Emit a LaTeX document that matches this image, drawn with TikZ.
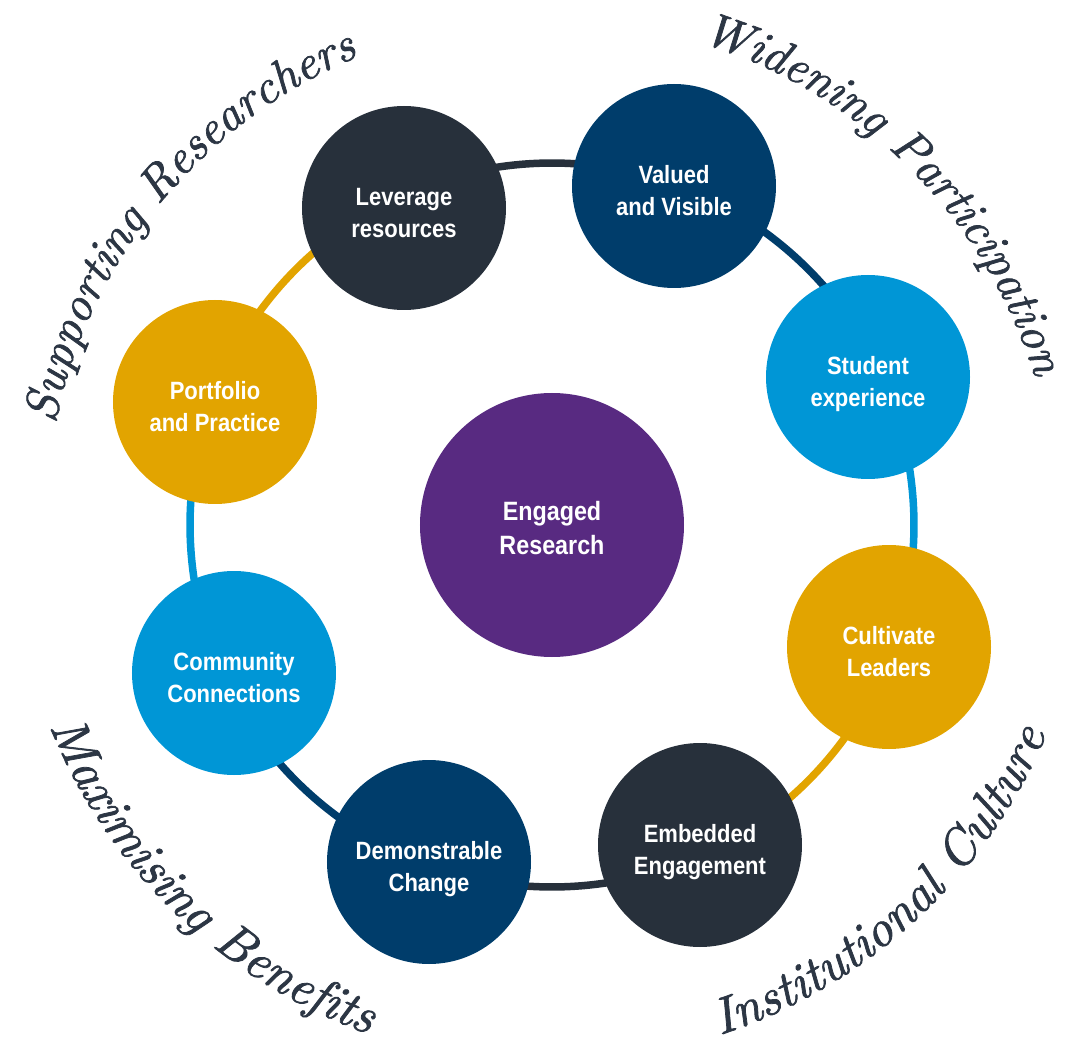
\documentclass[tikz,border=0pt]{standalone}
\usepackage{fontspec}
\usepackage{tikz}
\usetikzlibrary{decorations.text}
\usepackage{color}

\newfontfamily\nodefont{Liberation Sans}[FakeStretch=0.88]
\newfontface\arcface{lmroman10-italic.otf}[FakeBold=1.5]
\newcommand\arcfont{\arcface\fontsize{48}{48}\selectfont}
\newcommand\arcfontlow{\arcface\fontsize{51}{51}\selectfont}

\definecolor{darkslate}{HTML}{27303B}
\definecolor{navy}{HTML}{003D6B}
\definecolor{skyblue}{HTML}{0096D6}
\definecolor{gold}{HTML}{E2A400}
\definecolor{engpurple}{HTML}{582A81}
\definecolor{arctext}{HTML}{2C3644}

\begin{document}
\begin{tikzpicture}[x=1pt, y=1pt,
    blob/.style={circle, inner sep=0pt, minimum size=204pt, align=center, text=white,
        font=\nodefont\bfseries\fontsize{25}{32}\selectfont,
        text height=65pt, text depth=6pt},
    ring/.style={line width=7.5pt, bend left=22.5, looseness=0.885},
    arclabel/.style={decorate, decoration={text along path, text align=center, text color=arctext}}]

    \useasboundingbox (-552, -516) rectangle (513, 525);

    % points on the ring
    \coordinate (p1) at (115:362);
    \coordinate (p2) at (70:362);
    \coordinate (p3) at (25:362);
    \coordinate (p4) at (-20:362);
    \coordinate (p5) at (-65:362);
    \coordinate (p6) at (-110:362);
    \coordinate (p7) at (-155:362);
    \coordinate (p8) at (160:362);

    \draw[ring, darkslate] (p1) to (p2);
    \draw[ring, navy] (p2) to (p3);
    \draw[ring, skyblue] (p3) to (p4);
    \draw[ring, gold] (p4) to (p5);
    \draw[ring, darkslate] (p5) to (p6);
    \draw[ring, navy] (p6) to (p7);
    \draw[ring, skyblue] (p7) to (p8);
    \draw[ring, gold] (p8) to (p1);

    % circles
    \node[blob, fill=darkslate] (1) at (-148, 317) {Leverage\\resources};
    \node[blob, fill=navy] (2) at (122, 339) {Valued\\and Visible};
    \node[blob, fill=skyblue] (3) at (316, 148) {Student\\experience};
    \node[blob, fill=gold] (4) at (337, -122) {Cultivate\\Leaders};
    \node[blob, fill=darkslate] (5) at (148, -320) {Embedded\\Engagement};
    \node[blob, fill=navy] (6) at (-123, -337) {Demonstrable\\Change};
    \node[blob, fill=skyblue] (7) at (-318, -148) {Community\\Connections};
    \node[blob, fill=gold] (8) at (-337, 123) {Portfolio\\and Practice};

    \node[blob, fill=engpurple, minimum size=264pt,
        font=\nodefont\bfseries\fontsize{26.5}{34}\selectfont] (0) at (0, 0) {Engaged\\Research};

    % curved titles
    \path[arclabel, decoration={text={|\arcfont|Supporting Researchers}}]
        (175.5:507) arc[start angle=175.5, end angle=105.5, radius=507];
    \path[arclabel, decoration={text={|\arcfont|Widening Participation}}]
        (80:505) arc[start angle=80, end angle=10, radius=505];
    \path[arclabel, decoration={text={|\arcfontlow|Maximising Benefits}}]
        (196:541) arc[start angle=196, end angle=256, radius=541];
    \path[arclabel, decoration={text={|\arcfontlow|Institutional Culture}}]
        (282.6:537) arc[start angle=282.6, end angle=342.6, radius=537];

\end{tikzpicture}
\end{document}
